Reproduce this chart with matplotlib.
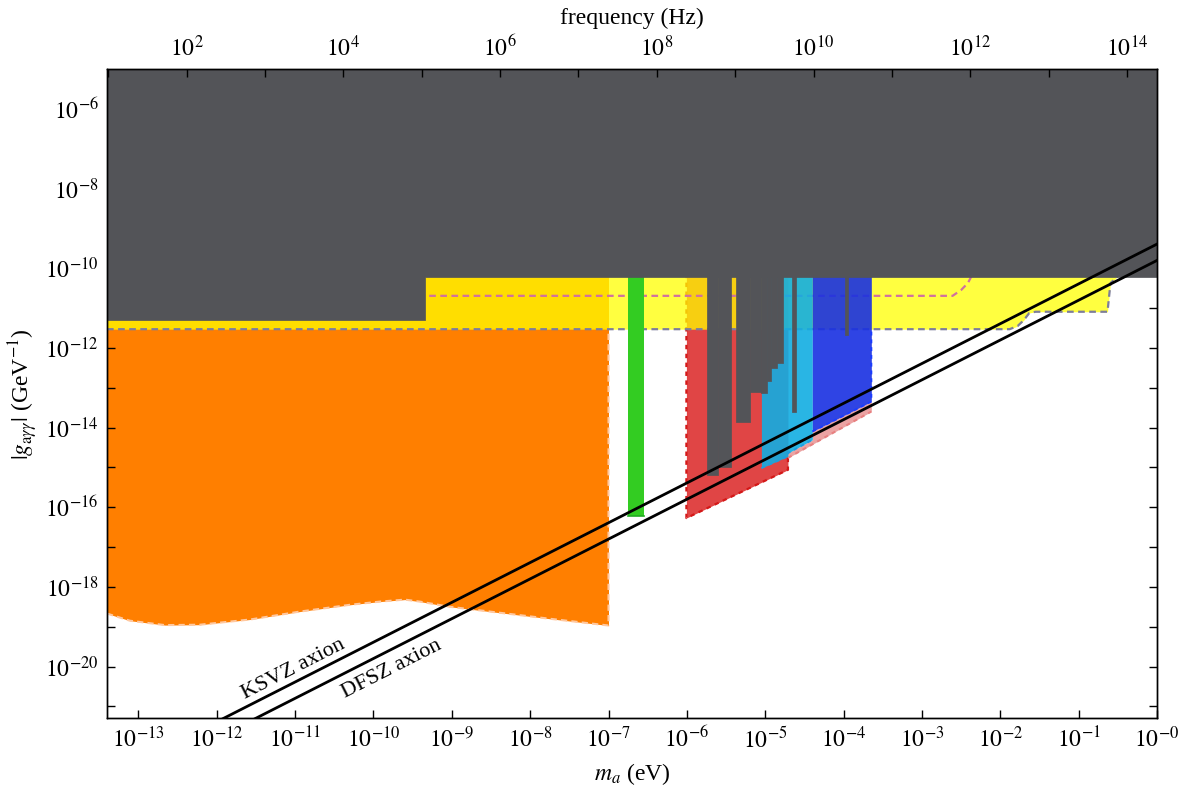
import numpy as np
import matplotlib
matplotlib.use("Agg")
import matplotlib.pyplot as plt
from matplotlib.ticker import NullLocator

plt.rcParams['font.family'] = ['Liberation Serif', 'DejaVu Serif']
plt.rcParams['mathtext.fontset'] = 'stix'

h_eVs = 4.1357e-15  # eV s, m = h f

x_min, x_max = 10**-13.4, 1.0
y_min, y_max = 10**-21.3, 1e-5

# all values below are log10(m / eV) and log10(g / GeV^-1)

# excluded (dark grey) top region
excl_m = [-13.4, -9.344, -9.344, 0.0]
excl_g = [-11.295, -11.295, -10.208, -10.208]

# haloscope exclusion bars hanging from the grey region
halo_lo = [-5.738, -5.60, -5.368, -5.198, -5.049, -4.978, -4.92, -4.85, -4.654, -3.987]
halo_hi = [-5.60, -5.432, -5.198, -5.049, -4.978, -4.92, -4.85, -4.774, -4.603, -3.948]
halo_g = [-15.18, -14.98, -13.85, -13.10, -13.12, -12.84, -12.50, -12.38, -13.62, -11.67]

# yellow helioscope projection (lower edge)
yel_m = [-13.4, -1.882, -1.78, -1.70, -1.63, -1.55, -0.632, -0.594, -0.505]
yel_g = [-11.528, -11.528, -11.45, -11.30, -11.12, -11.09, -11.09, -10.37, -10.208]

# pink dotted line inside yellow
pnk_m = [-13.4, -2.609, -2.498, -2.414, -2.371]
pnk_g = [-10.69, -10.69, -10.54, -10.37, -10.208]

# orange projection (lower edge)
ora_m = [-13.4, -13.107, -12.66, -12.214, -11.576, -10.938, -10.30, -9.918,
         -9.599, -9.408, -9.025, -8.387, -7.75, -7.0]
ora_g = [-18.67, -18.85, -18.96, -18.95, -18.82, -18.62, -18.45, -18.37,
         -18.32, -18.37, -18.50, -18.65, -18.80, -18.97]

# green bar
grn_m = [-6.751, -6.551]
grn_g = [-16.23, -16.23]

# red projection
red_m = [-6.006, -4.71]
red_g = [-16.271, -15.059]

# light red strip
lrd_m = [-4.71, -4.399, -4.399, -3.646]
lrd_lo = [-14.76, -14.42, -14.42, -13.596]
lrd_hi = [-14.64, -14.306, -14.098, -13.345]

# light blue projection
lbl_m = [-5.049, -4.71, -4.71, -4.399]
lbl_g = [-15.016, -14.72, -14.64, -14.306]

# dark blue projection
dbl_m = [-4.399, -3.646]
dbl_g = [-14.098, -13.345]

# axion model lines
ax_m = [-14.0, 0.0]
ksvz_g = [-23.39, -9.39]
dfsz_g = [-23.80, -9.80]


def p(a):
    return 10.0 ** np.asarray(a)


gray = '#535458'
fs = 17

fig = plt.figure(figsize=(11.9, 7.9), dpi=100)
ax = fig.add_axes([0.0899, 0.0908, 0.8824, 0.8215])
ax.set_xscale('log')
ax.set_yscale('log')
ax.set_xlim(x_min, x_max)
ax.set_ylim(y_min, y_max)

# orange
ax.fill_between(p(ora_m), p(ora_g), y_max, color='#ff7f00', lw=0, zorder=1)
ax.plot(np.append(p(ora_m), p(ora_m[-1])), np.append(p(ora_g), 10**-11.5),
        color='#ffc8a0', lw=1.5, ls=(0, (3, 2)), zorder=1.1)

# red
ax.fill_between(p(red_m), p(red_g), y_max, color='#e04545', lw=0, zorder=2)
ax.plot([p(red_m[0]), p(red_m[0]), p(red_m[1]), p(red_m[1])],
        [y_max, p(red_g[0]), p(red_g[1]), 10**-14.6],
        color='#d41818', lw=1.6, ls=(0, (2, 2)), zorder=2.1)

# light red strip
ax.fill_between(p(lrd_m), p(lrd_lo), p(lrd_hi), color='#eba3a3', lw=0, zorder=3)
ax.plot(p(lrd_m), p(lrd_lo), color='#e88080', lw=1.5, ls=(0, (2, 2)), zorder=3.1)

# yellow
ax.fill_between(p(yel_m), p(yel_g), y_max, color='#ffff00', alpha=0.75, lw=0, zorder=4)
ax.plot(p(yel_m), p(yel_g), color='#7d7d9c', lw=1.6, ls=(0, (3, 2)), zorder=4.1)
ax.plot(p(pnk_m), p(pnk_g), color='#d070a0', lw=1.6, ls=(0, (3, 2)), zorder=4.1)

# light blue
ax.fill_between(p(lbl_m), p(lbl_g), y_max, color='#12ade2', alpha=0.9, lw=0, zorder=5)
ax.plot(p(lbl_m), p(lbl_g), color='#1e9de0', lw=1.4, ls=(0, (2, 2)), zorder=5.1)

# dark blue
ax.fill_between(p(dbl_m), p(dbl_g), y_max, color='#1830e2', alpha=0.9, lw=0, zorder=6)
ax.plot([p(dbl_m[0]), p(dbl_m[1]), p(dbl_m[1])], [p(dbl_g[0]), p(dbl_g[1]), 10**-11.5],
        color='#1a3cff', lw=1.4, ls=(0, (2, 2)), zorder=6.1)

# green
ax.fill_between(p(grn_m), p(grn_g), y_max, color='#33cc22', lw=0, zorder=7)
ax.plot(p(grn_m), p(grn_g), color='#22aa22', lw=1.2, zorder=7.1)

# grey exclusions
ax.fill_between(p(excl_m), p(excl_g), y_max, color=gray, lw=0.5, edgecolor=gray, zorder=8)
for lo, hi, g in zip(halo_lo, halo_hi, halo_g):
    ax.fill_between([p(lo), p(hi)], p(g), y_max, color=gray, lw=0.5,
                    edgecolor=gray, zorder=8)

# axion lines
ax.plot(p(ax_m), p(ksvz_g), color='black', lw=2, zorder=9)
ax.plot(p(ax_m), p(dfsz_g), color='black', lw=2, zorder=9)
ax.text(p(-11.02), p(-20.06), 'KSVZ axion', rotation=27, ha='center', va='center',
        fontsize=16, zorder=10)
ax.text(p(-9.77), p(-20.06), 'DFSZ axion', rotation=27, ha='center', va='center',
        fontsize=16, zorder=10)

# ticks
xt = list(range(-13, 1))
ax.set_xticks([10.0**k for k in xt])
ax.set_xticklabels([r'$10^{-%d}$' % (-k) for k in xt])
yt = list(range(-21, -5))
ax.set_yticks([10.0**k for k in yt])
ax.set_yticklabels([r'$10^{%d}$' % k if k % 2 == 0 else '' for k in yt])
ax.xaxis.set_minor_locator(NullLocator())
ax.yaxis.set_minor_locator(NullLocator())
ax.tick_params(which='both', direction='in', top=False, right=True,
               length=6, width=1, labelsize=fs, pad=6)
ax.set_xlabel(r'$m_a$ (eV)', fontsize=fs, labelpad=6)
ax.set_ylabel(r'$|g_{\mathrm{a}\gamma\gamma}|$ (GeV$^{-1}$)', fontsize=fs, labelpad=4)

ax2 = ax.twiny()
ax2.set_xscale('log')
ax2.set_xlim(x_min / h_eVs, x_max / h_eVs)
ft = list(range(1, 15))
ax2.set_xticks([10.0**k for k in ft])
ax2.set_xticklabels([r'$10^{%d}$' % k if k % 2 == 0 else '' for k in ft])
ax2.xaxis.set_minor_locator(NullLocator())
ax2.tick_params(which='both', direction='in', length=6, width=1, labelsize=fs, pad=6)
ax2.set_xlabel('frequency (Hz)', fontsize=fs, labelpad=8)

for a in (ax, ax2):
    for s in a.spines.values():
        s.set_linewidth(1.0)
        s.set_zorder(20)

fig.savefig('out.png', dpi=100)
